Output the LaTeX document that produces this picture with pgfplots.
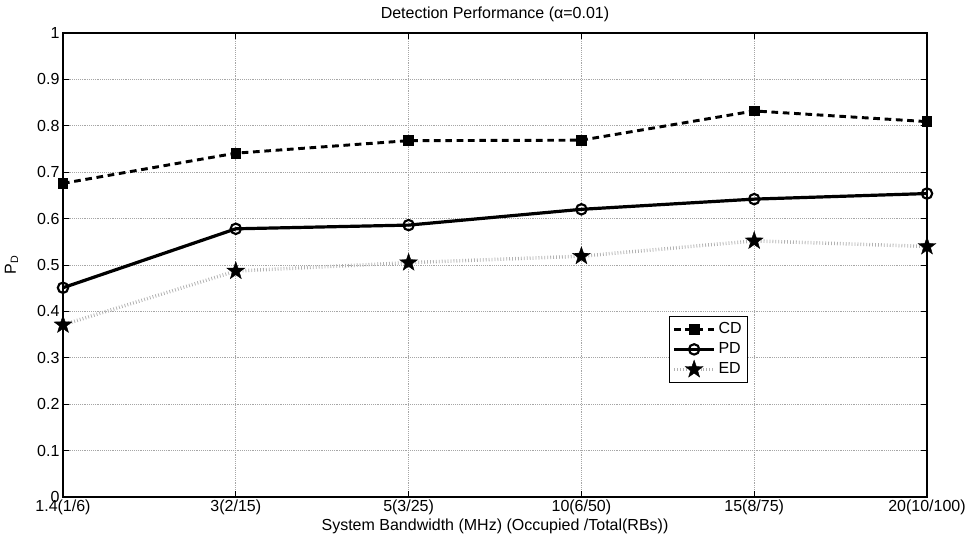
\documentclass[border=0pt]{standalone}
\usepackage{fontspec}
\setmainfont{Liberation Sans}
\usepackage{pgfplots}
\usetikzlibrary{calc}
\pgfplotsset{compat=1.18}
\pgfdeclareplotmark{fstar}{%
  \pgfpathmoveto{\pgfpointpolar{90}{\pgfplotmarksize}}%
  \pgfpathlineto{\pgfpointpolar{126}{0.40\pgfplotmarksize}}%
  \pgfpathlineto{\pgfpointpolar{162}{\pgfplotmarksize}}%
  \pgfpathlineto{\pgfpointpolar{198}{0.40\pgfplotmarksize}}%
  \pgfpathlineto{\pgfpointpolar{234}{\pgfplotmarksize}}%
  \pgfpathlineto{\pgfpointpolar{270}{0.40\pgfplotmarksize}}%
  \pgfpathlineto{\pgfpointpolar{306}{\pgfplotmarksize}}%
  \pgfpathlineto{\pgfpointpolar{342}{0.40\pgfplotmarksize}}%
  \pgfpathlineto{\pgfpointpolar{18}{\pgfplotmarksize}}%
  \pgfpathlineto{\pgfpointpolar{54}{0.40\pgfplotmarksize}}%
  \pgfpathclose
  \pgfusepathqfillstroke
}
\begin{document}
\fontsize{12}{14}\selectfont
\begin{tikzpicture}
\begin{axis}[
  scale only axis,
  width=648pt, height=348pt,
  xmin=0, xmax=5, ymin=0, ymax=1,
  xtick={0,1,2,3,4,5},
  xticklabels={1.4(1/6),3(2/15),5(3/25),10(6/50),15(8/75),20(10/100)},
  ytick={0,0.1,0.2,0.3,0.4,0.5,0.6,0.7,0.8,0.9,1},
  yticklabels={0,0.1,0.2,0.3,0.4,0.5,0.6,0.7,0.8,0.9,1},
  tick align=inside,
  tick pos=both,
  major tick length=4.5pt,
  tick style={black, line width=0.6pt},
  axis line style={line width=0.8pt},
  grid=major,
  grid style={densely dotted, gray!70, line width=0.5pt},
  xticklabel style={font=\fontsize{12}{14}\selectfont, yshift=2pt},
  yticklabel style={font=\fontsize{12}{14}\selectfont, xshift=1.5pt},
  xlabel={System Bandwidth (MHz) (Occupied /Total(RBs))},
  xlabel style={font=\fontsize{12}{14}\selectfont, yshift=5pt},
  ylabel={P\textsubscript{D}},
  ylabel style={font=\fontsize{12}{14}\selectfont, yshift=6pt},
  title={Detection Performance (α=0.01)},
  title style={font=\fontsize{12}{14}\selectfont, yshift=-2pt},
  legend style={at={(0.701,0.39)}, anchor=north west, draw=black, line width=0.6pt,
    font=\fontsize{12}{14}\selectfont, inner sep=2.5pt, row sep=1pt,
    cells={anchor=west}},
  legend image code/.code={
    \draw[mark repeat=2,mark phase=2,#1] plot coordinates {(0pt,0pt) (15pt,0pt) (30pt,0pt)};
  },
  clip=false,
]
\coordinate (bbsw) at (rel axis cs:0,0);
\coordinate (bbne) at (rel axis cs:1,1);
\addplot[black, line width=2.2pt, dash pattern=on 5pt off 3.5pt,
  mark=square*, mark size=3.6pt, mark options={solid, fill=black, line width=0.6pt}]
  coordinates {(0,0.676) (1,0.741) (2,0.768) (3,0.769) (4,0.832) (5,0.809)};
\addlegendentry{CD}
\addplot[black, line width=2.4pt,
  mark=o, mark size=3.9pt, mark options={solid, line width=1.6pt}]
  coordinates {(0,0.451) (1,0.578) (2,0.586) (3,0.620) (4,0.642) (5,0.654)};
\addlegendentry{PD}
\addplot[gray!60, line width=2.6pt, dash pattern=on 0.6pt off 1.6pt,
  mark=fstar, mark size=7pt, mark options={solid, black, fill=black, line width=0.3pt}]
  coordinates {(0,0.371) (1,0.487) (2,0.505) (3,0.519) (4,0.552) (5,0.540)};
\addlegendentry{ED}
\end{axis}
\pgfresetboundingbox
\path[use as bounding box] ($(bbsw)+(-47.25pt,-32.25pt)$) rectangle ($(bbne)+(32.25pt,24.75pt)$);
\end{tikzpicture}
\end{document}
